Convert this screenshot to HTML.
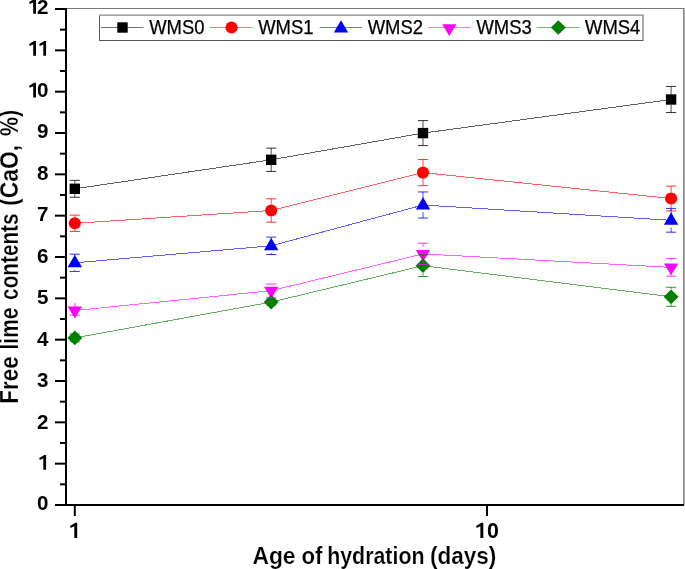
<!DOCTYPE html>
<html><head><meta charset="utf-8"><style>
html,body{margin:0;padding:0;background:#fff;}
svg{display:block;}
text{font-family:"Liberation Sans",sans-serif;}
</style></head><body>
<svg width="685" height="569" viewBox="0 0 685 569" style="will-change:transform">
<rect width="685" height="569" fill="#fff"/>
<rect x="66" y="8" width="618" height="1" fill="#7a7a7a"/>
<rect x="683" y="8" width="1" height="497" fill="#858585"/>
<rect x="684" y="8" width="1" height="497" fill="#b0b0b0"/>
<polyline points="74.80,188.80 271.20,159.80 423.00,133.10 671.10,99.50" fill="none" stroke="#000000" stroke-opacity="0.62" stroke-width="1" shape-rendering="crispEdges"/>
<polyline points="74.80,223.30 271.20,210.50 423.00,172.60 671.10,198.50" fill="none" stroke="#ff0000" stroke-opacity="0.62" stroke-width="1" shape-rendering="crispEdges"/>
<polyline points="74.80,262.80 271.20,245.80 423.00,205.00 671.10,220.30" fill="none" stroke="#0000ff" stroke-opacity="0.62" stroke-width="1" shape-rendering="crispEdges"/>
<polyline points="74.80,310.50 271.20,290.70 423.00,253.90 671.10,267.40" fill="none" stroke="#ff00ff" stroke-opacity="0.62" stroke-width="1" shape-rendering="crispEdges"/>
<polyline points="74.80,337.90 271.20,302.10 423.00,265.70 671.10,296.80" fill="none" stroke="#008000" stroke-opacity="0.62" stroke-width="1" shape-rendering="crispEdges"/>
<rect x="69.60" y="183.60" width="10.4" height="10.4" fill="#000000"/>
<rect x="266.00" y="154.60" width="10.4" height="10.4" fill="#000000"/>
<rect x="417.80" y="127.90" width="10.4" height="10.4" fill="#000000"/>
<rect x="665.90" y="94.30" width="10.4" height="10.4" fill="#000000"/>
<circle cx="74.80" cy="223.30" r="6.05" fill="#ff0000"/>
<circle cx="271.20" cy="210.50" r="6.05" fill="#ff0000"/>
<circle cx="423.00" cy="172.60" r="6.05" fill="#ff0000"/>
<circle cx="671.10" cy="198.50" r="6.05" fill="#ff0000"/>
<path d="M74.80,254.86L82.00,267.26L67.60,267.26Z" fill="#0000ff"/>
<path d="M271.20,237.86L278.40,250.26L264.00,250.26Z" fill="#0000ff"/>
<path d="M423.00,197.06L430.20,209.46L415.80,209.46Z" fill="#0000ff"/>
<path d="M671.10,212.36L678.30,224.76L663.90,224.76Z" fill="#0000ff"/>
<path d="M67.60,306.61L82.00,306.61L74.80,318.41Z" fill="#ff00ff"/>
<path d="M264.00,286.81L278.40,286.81L271.20,298.61Z" fill="#ff00ff"/>
<path d="M415.80,250.01L430.20,250.01L423.00,261.81Z" fill="#ff00ff"/>
<path d="M663.90,263.51L678.30,263.51L671.10,275.31Z" fill="#ff00ff"/>
<path d="M74.80,330.55L82.25,337.90L74.80,345.25L67.35,337.90Z" fill="#008000"/>
<path d="M271.20,294.75L278.65,302.10L271.20,309.45L263.75,302.10Z" fill="#008000"/>
<path d="M423.00,258.35L430.45,265.70L423.00,273.05L415.55,265.70Z" fill="#008000"/>
<path d="M671.10,289.45L678.55,296.80L671.10,304.15L663.65,296.80Z" fill="#008000"/>
<path d="M74.80,180.35V183.60M74.80,194.00V197.25" stroke="#000000" stroke-opacity="0.7" stroke-width="1" fill="none"/>
<path d="M69.70,180.35H79.90M69.70,197.25H79.90" stroke="#000000" stroke-opacity="0.8" stroke-width="1" fill="none"/>
<path d="M271.20,148.15V154.60M271.20,165.00V171.45" stroke="#000000" stroke-opacity="0.7" stroke-width="1" fill="none"/>
<path d="M266.10,148.15H276.30M266.10,171.45H276.30" stroke="#000000" stroke-opacity="0.8" stroke-width="1" fill="none"/>
<path d="M423.00,120.60V127.90M423.00,138.30V145.60" stroke="#000000" stroke-opacity="0.7" stroke-width="1" fill="none"/>
<path d="M417.90,120.60H428.10M417.90,145.60H428.10" stroke="#000000" stroke-opacity="0.8" stroke-width="1" fill="none"/>
<path d="M671.10,86.45V94.30M671.10,104.70V112.55" stroke="#000000" stroke-opacity="0.7" stroke-width="1" fill="none"/>
<path d="M666.00,86.45H676.20M666.00,112.55H676.20" stroke="#000000" stroke-opacity="0.8" stroke-width="1" fill="none"/>
<path d="M74.80,215.15V217.30M74.80,229.30V231.45" stroke="#ff0000" stroke-opacity="0.7" stroke-width="1" fill="none"/>
<path d="M69.70,215.15H79.90M69.70,231.45H79.90" stroke="#ff0000" stroke-opacity="0.8" stroke-width="1" fill="none"/>
<path d="M271.20,198.80V204.50M271.20,216.50V222.20" stroke="#ff0000" stroke-opacity="0.7" stroke-width="1" fill="none"/>
<path d="M266.10,198.80H276.30M266.10,222.20H276.30" stroke="#ff0000" stroke-opacity="0.8" stroke-width="1" fill="none"/>
<path d="M423.00,159.55V166.60M423.00,178.60V185.65" stroke="#ff0000" stroke-opacity="0.7" stroke-width="1" fill="none"/>
<path d="M417.90,159.55H428.10M417.90,185.65H428.10" stroke="#ff0000" stroke-opacity="0.8" stroke-width="1" fill="none"/>
<path d="M671.10,186.10V192.50M671.10,204.50V210.90" stroke="#ff0000" stroke-opacity="0.7" stroke-width="1" fill="none"/>
<path d="M666.00,186.10H676.20M666.00,210.90H676.20" stroke="#ff0000" stroke-opacity="0.8" stroke-width="1" fill="none"/>
<path d="M74.80,254.15V255.80M74.80,269.80V271.45" stroke="#0000ff" stroke-opacity="0.7" stroke-width="1" fill="none"/>
<path d="M69.70,254.15H79.90M69.70,271.45H79.90" stroke="#0000ff" stroke-opacity="0.8" stroke-width="1" fill="none"/>
<path d="M271.20,237.10V238.80M271.20,252.80V254.50" stroke="#0000ff" stroke-opacity="0.7" stroke-width="1" fill="none"/>
<path d="M266.10,237.10H276.30M266.10,254.50H276.30" stroke="#0000ff" stroke-opacity="0.8" stroke-width="1" fill="none"/>
<path d="M423.00,191.95V198.00M423.00,212.00V218.05" stroke="#0000ff" stroke-opacity="0.7" stroke-width="1" fill="none"/>
<path d="M417.90,191.95H428.10M417.90,218.05H428.10" stroke="#0000ff" stroke-opacity="0.8" stroke-width="1" fill="none"/>
<path d="M671.10,208.40V213.30M671.10,227.30V232.20" stroke="#0000ff" stroke-opacity="0.7" stroke-width="1" fill="none"/>
<path d="M666.00,208.40H676.20M666.00,232.20H676.20" stroke="#0000ff" stroke-opacity="0.8" stroke-width="1" fill="none"/>
<path d="M74.80,303.10V303.50M74.80,303V307" stroke="#ff00ff" stroke-opacity="0.7" stroke-width="1" fill="none"/>
<path d="M69.70,315.10H79.90" stroke="#ff00ff" stroke-opacity="0.8" stroke-width="1" fill="none"/>
<path d="M266.10,284.10H276.30M266.10,297.30H276.30" stroke="#ff00ff" stroke-opacity="0.8" stroke-width="1" fill="none"/>
<path d="M423.00,243.25V246.90M423.00,260.90V264.55" stroke="#ff00ff" stroke-opacity="0.7" stroke-width="1" fill="none"/>
<path d="M417.90,243.25H428.10M417.90,264.55H428.10" stroke="#ff00ff" stroke-opacity="0.8" stroke-width="1" fill="none"/>
<path d="M671.10,258.60V260.40M671.10,274.40V276.20" stroke="#ff00ff" stroke-opacity="0.7" stroke-width="1" fill="none"/>
<path d="M666.00,258.60H676.20M666.00,276.20H676.20" stroke="#ff00ff" stroke-opacity="0.8" stroke-width="1" fill="none"/>
<path d="M69.70,334.00H79.90M69.70,341.80H79.90" stroke="#008000" stroke-opacity="0.8" stroke-width="1" fill="none"/>
<path d="M266.10,299.10H276.30M266.10,305.10H276.30" stroke="#008000" stroke-opacity="0.8" stroke-width="1" fill="none"/>
<path d="M423.00,254.90V258.40M423.00,273.00V276.50" stroke="#008000" stroke-opacity="0.7" stroke-width="1" fill="none"/>
<path d="M417.90,254.90H428.10M417.90,276.50H428.10" stroke="#008000" stroke-opacity="0.8" stroke-width="1" fill="none"/>
<path d="M671.10,287.25V289.50M671.10,304.10V306.35" stroke="#008000" stroke-opacity="0.7" stroke-width="1" fill="none"/>
<path d="M666.00,287.25H676.20M666.00,306.35H676.20" stroke="#008000" stroke-opacity="0.8" stroke-width="1" fill="none"/>
<rect x="65" y="8" width="2" height="498" fill="#000"/>
<rect x="55" y="504" width="629" height="2" fill="#000"/>
<rect x="55" y="504.00" width="11" height="2" fill="#000"/>
<rect x="60" y="483.33" width="6" height="2" fill="#000"/>
<rect x="55" y="462.67" width="11" height="2" fill="#000"/>
<rect x="60" y="442.00" width="6" height="2" fill="#000"/>
<rect x="55" y="421.33" width="11" height="2" fill="#000"/>
<rect x="60" y="400.67" width="6" height="2" fill="#000"/>
<rect x="55" y="380.00" width="11" height="2" fill="#000"/>
<rect x="60" y="359.33" width="6" height="2" fill="#000"/>
<rect x="55" y="338.67" width="11" height="2" fill="#000"/>
<rect x="60" y="318.00" width="6" height="2" fill="#000"/>
<rect x="55" y="297.34" width="11" height="2" fill="#000"/>
<rect x="60" y="276.67" width="6" height="2" fill="#000"/>
<rect x="55" y="256.00" width="11" height="2" fill="#000"/>
<rect x="60" y="235.34" width="6" height="2" fill="#000"/>
<rect x="55" y="214.67" width="11" height="2" fill="#000"/>
<rect x="60" y="194.00" width="6" height="2" fill="#000"/>
<rect x="55" y="173.34" width="11" height="2" fill="#000"/>
<rect x="60" y="152.67" width="6" height="2" fill="#000"/>
<rect x="55" y="132.00" width="11" height="2" fill="#000"/>
<rect x="60" y="111.34" width="6" height="2" fill="#000"/>
<rect x="55" y="90.67" width="11" height="2" fill="#000"/>
<rect x="60" y="70.00" width="6" height="2" fill="#000"/>
<rect x="55" y="49.34" width="11" height="2" fill="#000"/>
<rect x="60" y="28.67" width="6" height="2" fill="#000"/>
<rect x="55" y="8.00" width="11" height="2" fill="#000"/>
<rect x="73.80" y="505" width="2" height="11" fill="#000"/>
<rect x="486.00" y="505" width="2" height="11" fill="#000"/>
<text x="48.4" y="510.34" font-family="Liberation Sans" font-weight="bold" font-size="20.6" text-anchor="end">0</text>
<path d="M44.27,454.98L46.10,454.98L46.10,469.73L43.30,469.73L43.30,458.44L39.74,459.99L39.26,458.06Z" fill="#000"/>
<text x="48.4" y="428.71" font-family="Liberation Sans" font-weight="bold" font-size="20.6" text-anchor="end">2</text>
<text x="48.4" y="387.06" font-family="Liberation Sans" font-weight="bold" font-size="20.6" text-anchor="end">3</text>
<text x="48.4" y="345.81" font-family="Liberation Sans" font-weight="bold" font-size="20.6" text-anchor="end">4</text>
<text x="48.4" y="304.08" font-family="Liberation Sans" font-weight="bold" font-size="20.6" text-anchor="end">5</text>
<text x="48.4" y="262.98" font-family="Liberation Sans" font-weight="bold" font-size="20.6" text-anchor="end">6</text>
<text x="48.4" y="220.69" font-family="Liberation Sans" font-weight="bold" font-size="20.6" text-anchor="end">7</text>
<text x="48.4" y="179.84" font-family="Liberation Sans" font-weight="bold" font-size="20.6" text-anchor="end">8</text>
<text x="48.4" y="138.42" font-family="Liberation Sans" font-weight="bold" font-size="20.6" text-anchor="end">9</text>
<path d="M34.17,82.66L36.00,82.66L36.00,97.41L33.20,97.41L33.20,86.13L29.64,87.68L29.16,85.74Z" fill="#000"/>
<text x="48.4" y="97.41" font-family="Liberation Sans" font-weight="bold" font-size="20.6" text-anchor="end">0</text>
<path d="M34.17,40.93L36.00,40.93L36.00,55.68L33.20,55.68L33.20,44.39L29.64,45.94L29.16,44.01Z" fill="#000"/>
<path d="M44.27,40.93L46.10,40.93L46.10,55.68L43.30,55.68L43.30,44.39L39.74,45.94L39.26,44.01Z" fill="#000"/>
<path d="M34.17,-1.05L36.00,-1.05L36.00,13.70L33.20,13.70L33.20,2.42L29.64,3.97L29.16,2.04Z" fill="#000"/>
<text x="48.4" y="13.70" font-family="Liberation Sans" font-weight="bold" font-size="20.6" text-anchor="end">2</text>
<path d="M75.30,522.68L77.20,522.68L77.20,538.00L74.29,538.00L74.29,526.28L70.60,527.89L70.09,525.88Z" fill="#000"/>
<path d="M481.40,522.68L483.30,522.68L483.30,538.00L480.39,538.00L480.39,526.28L476.70,527.89L476.19,525.88Z" fill="#000"/>
<text x="499.0" y="538" font-family="Liberation Sans" font-weight="bold" font-size="21.4" text-anchor="end">0</text>
<text x="252.40" y="563.6" font-family="Liberation Sans" font-weight="bold" font-size="23.5" stroke="#fff" stroke-width="0.2" textLength="43.14" lengthAdjust="spacingAndGlyphs">Age</text>
<text x="301.40" y="563.6" font-family="Liberation Sans" font-weight="bold" font-size="23.5" stroke="#fff" stroke-width="0.2" textLength="21.01" lengthAdjust="spacingAndGlyphs">of</text>
<text x="327.20" y="563.6" font-family="Liberation Sans" font-weight="bold" font-size="23.5" stroke="#fff" stroke-width="0.2" textLength="97.31" lengthAdjust="spacingAndGlyphs">hydration</text>
<text x="429.90" y="563.6" font-family="Liberation Sans" font-weight="bold" font-size="23.5" stroke="#fff" stroke-width="0.2" textLength="66.38" lengthAdjust="spacingAndGlyphs">(days)</text>
<g transform="translate(18.4,0) rotate(-90)">
<text x="-403.70" y="0" font-family="Liberation Sans" font-weight="bold" font-size="25.2" stroke="#fff" stroke-width="0.2" textLength="47.30" lengthAdjust="spacingAndGlyphs">Free</text>
<text x="-349.50" y="0" font-family="Liberation Sans" font-weight="bold" font-size="25.2" stroke="#fff" stroke-width="0.2" textLength="42.06" lengthAdjust="spacingAndGlyphs">lime</text>
<text x="-299.90" y="0" font-family="Liberation Sans" font-weight="bold" font-size="25.2" stroke="#fff" stroke-width="0.2" textLength="86.44" lengthAdjust="spacingAndGlyphs">contents</text>
<text x="-205.90" y="0" font-family="Liberation Sans" font-weight="bold" font-size="25.2" stroke="#fff" stroke-width="0.2" textLength="60.98" lengthAdjust="spacingAndGlyphs">(CaO,</text>
<text x="-136.00" y="0" font-family="Liberation Sans" font-weight="bold" font-size="25.2" stroke="#fff" stroke-width="0.2" textLength="26.03" lengthAdjust="spacingAndGlyphs">%)</text>
</g>
<rect x="99.5" y="15.5" width="543.5" height="25" fill="#fff" stroke="#555" stroke-width="1"/>
<rect x="99" y="14.6" width="545" height="1.2" fill="#fff"/>
<rect x="99" y="14.6" width="545" height="1" fill="#777"/>
<rect x="101.00" y="27" width="42.5" height="1" fill="#000000" fill-opacity="0.55"/>
<rect x="117.30" y="22.30" width="10.4" height="10.4" fill="#000000"/>
<text x="149.20" y="34" font-family="Liberation Sans" font-size="20" stroke="#000" stroke-width="0.25" textLength="55.3" lengthAdjust="spacingAndGlyphs">WMS0</text>
<rect x="210.00" y="27" width="42.5" height="1" fill="#ff0000" fill-opacity="0.55"/>
<circle cx="231.50" cy="27.50" r="6.05" fill="#ff0000"/>
<text x="258.20" y="34" font-family="Liberation Sans" font-size="20" stroke="#000" stroke-width="0.25" textLength="55.3" lengthAdjust="spacingAndGlyphs">WMS1</text>
<rect x="319.50" y="27" width="42.5" height="1" fill="#0000ff" fill-opacity="0.55"/>
<path d="M341.00,20.16L348.20,32.56L333.80,32.56Z" fill="#0000ff"/>
<text x="367.70" y="34" font-family="Liberation Sans" font-size="20" stroke="#000" stroke-width="0.25" textLength="55.3" lengthAdjust="spacingAndGlyphs">WMS2</text>
<rect x="428.20" y="27" width="42.5" height="1" fill="#ff00ff" fill-opacity="0.55"/>
<path d="M442.10,24.21L456.50,24.21L449.30,36.01Z" fill="#ff00ff"/>
<text x="476.40" y="34" font-family="Liberation Sans" font-size="20" stroke="#000" stroke-width="0.25" textLength="55.3" lengthAdjust="spacingAndGlyphs">WMS3</text>
<rect x="536.80" y="27" width="42.5" height="1" fill="#008000" fill-opacity="0.55"/>
<path d="M558.30,20.15L565.75,27.50L558.30,34.85L550.85,27.50Z" fill="#008000"/>
<text x="585.00" y="34" font-family="Liberation Sans" font-size="20" stroke="#000" stroke-width="0.25" textLength="55.3" lengthAdjust="spacingAndGlyphs">WMS4</text>
</svg>
</body></html>
